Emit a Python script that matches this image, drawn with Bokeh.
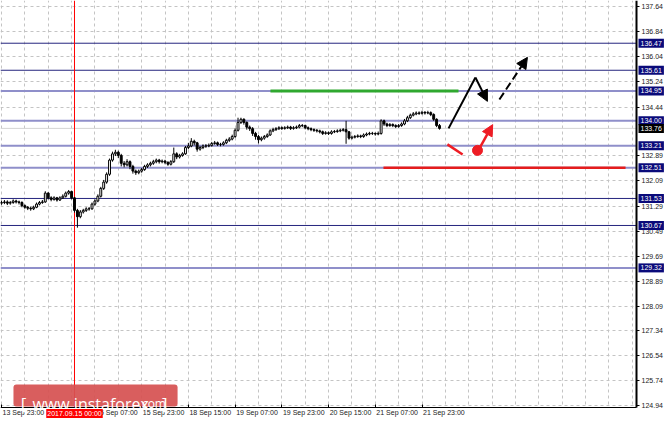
from bokeh.plotting import figure
from bokeh.models import (Range1d, FixedTicker, NumeralTickFormatter, Span, Label, LinearAxis,
                          Arrow, NormalHead, BoxAnnotation, ColumnDataSource)
from bokeh.embed import file_html
from bokeh.resources import INLINE

# ---------------- data ----------------
time_ticks = [0, 16, 32, 48, 64, 80, 96, 112, 128, 144]
time_labels = ["13 Sep 23:00", "14 Sep 15:00", "15 Sep 07:00", "15 Sep 23:00", "18 Sep 15:00",
               "19 Sep 07:00", "19 Sep 23:00", "20 Sep 15:00", "21 Sep 07:00", "21 Sep 23:00"]
price_ticks = [137.64, 136.84, 136.04, 135.24, 134.44, 132.89, 132.09, 131.29, 130.49,
               129.69, 128.89, 128.09, 127.34, 126.54, 125.74, 124.94]
levels = [136.47, 135.61, 134.95, 134.00, 133.21, 132.51, 131.53, 130.67, 129.32]
level_strong = [True, True, False, False, False, False, True, True, False]
current_price = 133.76
crosshair_bar = 25
crosshair_label = "2017.09.15 00:00"

first_open = 131.38
closes = [131.40, 131.42, 131.38, 131.40, 131.45, 131.42, 131.40, 131.30, 131.25, 131.22,
          131.20, 131.25, 131.35, 131.40, 131.42, 131.70, 131.55, 131.50, 131.55, 131.48,
          131.55, 131.60, 131.70, 131.75, 131.55, 131.15, 130.95, 131.10, 131.15, 131.20,
          131.20, 131.35, 131.45, 131.60, 131.85, 132.05, 132.30, 132.75, 132.95, 133.00,
          132.90, 132.65, 132.60, 132.70, 132.55, 132.40, 132.35, 132.40, 132.45, 132.55,
          132.60, 132.65, 132.70, 132.75, 132.70, 132.72, 132.68, 132.62, 132.70, 132.95,
          132.85, 132.90, 132.95, 133.15, 133.20, 133.35, 133.30, 133.10, 133.15, 133.20,
          133.20, 133.22, 133.28, 133.30, 133.25, 133.25, 133.30, 133.38, 133.42, 133.50,
          133.70, 133.95, 134.05, 133.95, 133.80, 133.75, 133.60, 133.50, 133.40, 133.45,
          133.50, 133.55, 133.68, 133.72, 133.75, 133.78, 133.76, 133.78, 133.80, 133.76,
          133.78, 133.80, 133.85, 133.85, 133.78, 133.75, 133.72, 133.70, 133.68, 133.65,
          133.60, 133.62, 133.60, 133.65, 133.66, 133.68, 133.70, 133.72, 133.65, 133.45,
          133.48, 133.50, 133.52, 133.50, 133.55, 133.58, 133.60, 133.60, 133.58, 133.60,
          134.00, 133.90, 133.85, 133.88, 133.85, 133.82, 133.85, 133.90, 134.00, 134.10,
          134.18, 134.22, 134.25, 134.24, 134.27, 134.25, 134.26, 134.20, 134.05, 133.85,
          133.76]
highs = [131.46, 131.48, 131.47, 131.45, 131.50, 131.49, 131.46, 131.44, 131.34, 131.29,
         131.27, 131.30, 131.40, 131.45, 131.48, 131.76, 131.73, 131.60, 131.60, 131.58,
         131.60, 131.66, 131.75, 131.80, 131.78, 131.58, 131.20, 131.16, 131.20, 131.25,
         131.26, 131.40, 131.50, 131.66, 131.90, 132.12, 132.36, 132.80, 133.02, 133.08,
         133.05, 132.95, 132.72, 132.78, 132.74, 132.60, 132.45, 132.45, 132.50, 132.60,
         132.65, 132.70, 132.76, 132.80, 132.79, 132.77, 132.76, 132.71, 132.75, 133.15,
         133.00, 132.95, 133.00, 133.20, 133.30, 133.45, 133.40, 133.33, 133.20, 133.25,
         133.26, 133.28, 133.33, 133.36, 133.34, 133.30, 133.35, 133.43, 133.48, 133.56,
         133.76, 134.10, 134.10, 134.08, 133.98, 133.85, 133.80, 133.65, 133.55, 133.50,
         133.55, 133.60, 133.73, 133.78, 133.80, 133.83, 133.82, 133.83, 133.85, 133.84,
         133.83, 133.85, 133.90, 133.90, 133.88, 133.82, 133.79, 133.76, 133.74, 133.72,
         133.69, 133.67, 133.66, 133.70, 133.71, 133.73, 133.75, 133.77, 134.00, 133.68,
         133.53, 133.55, 133.57, 133.56, 133.60, 133.63, 133.65, 133.65, 133.63, 133.66,
         134.05, 134.04, 133.94, 133.93, 133.92, 133.89, 133.90, 133.95, 134.06, 134.16,
         134.23, 134.28, 134.30, 134.30, 134.32, 134.31, 134.32, 134.30, 134.24, 134.08,
         133.90]
lows = [131.33, 131.35, 131.32, 131.33, 131.36, 131.37, 131.34, 131.25, 131.20, 131.16,
        131.14, 131.16, 131.22, 131.31, 131.36, 131.39, 131.50, 131.44, 131.46, 131.43,
        131.45, 131.52, 131.56, 131.65, 131.50, 131.08, 130.60, 130.90, 131.05, 131.10,
        131.14, 131.17, 131.30, 131.41, 131.56, 131.80, 132.00, 132.25, 132.70, 132.88,
        132.82, 132.55, 132.52, 132.55, 132.46, 132.32, 132.28, 132.30, 132.35, 132.41,
        132.50, 132.55, 132.60, 132.65, 132.64, 132.65, 132.62, 132.57, 132.58, 132.66,
        132.78, 132.80, 132.86, 132.92, 133.10, 133.16, 133.22, 133.02, 133.05, 133.10,
        133.14, 133.16, 133.18, 133.24, 133.20, 133.19, 133.21, 133.26, 133.33, 133.38,
        133.46, 133.66, 133.90, 133.88, 133.72, 133.68, 133.52, 133.40, 133.28, 133.35,
        133.40, 133.46, 133.52, 133.64, 133.68, 133.71, 133.71, 133.72, 133.74, 133.71,
        133.72, 133.74, 133.76, 133.80, 133.73, 133.70, 133.67, 133.65, 133.63, 133.60,
        133.55, 133.56, 133.55, 133.56, 133.61, 133.62, 133.64, 133.66, 133.27, 133.40,
        133.41, 133.44, 133.46, 133.45, 133.46, 133.51, 133.54, 133.55, 133.53, 133.54,
        133.56, 133.84, 133.80, 133.81, 133.80, 133.77, 133.78, 133.81, 133.86, 133.96,
        134.06, 134.14, 134.18, 134.19, 134.20, 134.20, 134.21, 134.15, 134.00, 133.80,
        133.72]

# forecast drawings (bar index, price)
green_x = [92.1, 156.5]
green_y = 134.95
red_level_x = [130.8, 213.7]
red_level_y = 132.51
up_leg_x = [153.1, 162.3]
up_leg_y = [133.76, 135.38]
pull_x = [162.3, 166.4]
pull_y = [135.38, 134.62]
cont_x = [170.5, 180.1]
cont_y = [134.68, 136.02]
red_dip_x = [152.7, 157.9]
red_dip_y = [133.25, 132.93]
red_dot = (163.0, 133.06)
red_up_x = [164.0, 168.2]
red_up_y = [133.18, 133.88]

# ---------------- figure ----------------
FONT = "Liberation Sans"
# chart area spans bars -0.34..217.46 and prices 124.88..137.83; the canvas extends a
# little further so that the price/time tags beside the axes stay inside the frame
x_lo, x_hi = -0.34, 217.46
y_lo, y_hi = 124.88, 137.83
p = figure(width=664, height=422, output_backend="svg", toolbar_location=None,
           x_range=Range1d(x_lo, 227.04), y_range=Range1d(124.40, y_hi),
           y_axis_location="right", min_border=0, min_border_left=0, min_border_right=0,
           min_border_top=0, min_border_bottom=0)
p.outline_line_color = None
p.background_fill_color = "white"
p.border_fill_color = "white"

# grids
p.xgrid.ticker = FixedTicker(ticks=list(range(0, 218, 8)))
p.ygrid.ticker = FixedTicker(ticks=price_ticks)
for g in (p.xgrid[0], p.ygrid[0]):
    g.grid_line_color = "#c4c4c4"
    g.grid_line_dash = "3 3"
    g.grid_line_width = 1

# level lines (underneath the drawings)
for lev, strong in zip(levels, level_strong):
    p.add_layout(Span(location=lev, dimension="width", level="underlay",
                      line_color="#24247e" if strong else "#8f8fca",
                      line_width=1 if strong else 2))
p.add_layout(Span(location=current_price, dimension="width", level="underlay",
                  line_color="#d4d4d4", line_width=1))
p.add_layout(Span(location=crosshair_bar, dimension="height", level="underlay",
                  line_color="#ff0000", line_width=1))

# white margins outside the chart area (axis label zones)
p.add_layout(BoxAnnotation(left=x_hi, fill_color="white", fill_alpha=1, line_color=None,
                           level="underlay"))
p.add_layout(BoxAnnotation(top=y_lo, fill_color="white", fill_alpha=1, line_color=None,
                           level="underlay"))

# price axis, pinned to the chart-area edge
yax = p.yaxis[0]
yax.fixed_location = x_hi
yax.bounds = (y_lo, y_hi)
yax.ticker = FixedTicker(ticks=price_ticks)
yax.formatter = NumeralTickFormatter(format="0.00")
yax.major_label_text_font = FONT
yax.major_label_text_font_size = "7px"
yax.major_label_text_color = "#222222"
yax.major_tick_in = 0
yax.major_tick_out = 3
yax.minor_tick_line_color = None
yax.major_label_standoff = 2
yax.axis_line_color = "black"
yax.axis_line_width = 2

# time axis: labels start at their tick (MT4 style), so labels sit half a label to the right
label_shift = 7.5
xax = p.xaxis[0]
xax.fixed_location = y_lo
xax.bounds = (x_lo, x_hi)
xax.ticker = FixedTicker(ticks=[t + label_shift for t in time_ticks])
xax.major_label_overrides = {t + label_shift: l for t, l in zip(time_ticks, time_labels)}
xax.major_label_text_font = FONT
xax.major_label_text_font_size = "7px"
xax.major_label_text_color = "#222222"
xax.major_tick_in = 0
xax.major_tick_out = 0
xax.major_tick_line_color = None
xax.minor_tick_line_color = None
xax.major_label_standoff = 2
xax.axis_line_color = "black"
xax.axis_line_width = 1

tick_axis = LinearAxis(fixed_location=y_lo, bounds=(x_lo, x_hi),
                       ticker=FixedTicker(ticks=time_ticks),
                       major_label_text_font_size="0px", major_label_text_alpha=0,
                       major_tick_in=3, major_tick_out=0, major_tick_line_color="black",
                       minor_tick_line_color=None, axis_line_color=None)
p.add_layout(tick_axis, "below")

# candles
idx = list(range(len(closes)))
opens = [first_open] + closes[:-1]
bull = [c >= o for o, c in zip(opens, closes)]
src = ColumnDataSource(dict(
    x=idx, o=opens, c=closes, h=highs, l=lows,
    top=[max(o, c) for o, c in zip(opens, closes)],
    bot=[min(o, c) for o, c in zip(opens, closes)],
    fill=["white" if b else "black" for b in bull]))
p.segment(x0="x", y0="h", x1="x", y1="l", source=src, line_color="black", line_width=1)
p.vbar(x="x", top="top", bottom="bot", width=0.65, source=src,
       fill_color="fill", line_color="black", line_width=1)

# forecast drawings
p.line(green_x, [green_y, green_y], line_color="#2fa82f", line_width=3)
p.line(red_level_x, [red_level_y, red_level_y], line_color="#e51c1c", line_width=2.5)
p.line(up_leg_x, up_leg_y, line_color="black", line_width=2)
p.add_layout(Arrow(end=NormalHead(size=11, fill_color="black", line_color="black"),
                   x_start=pull_x[0], y_start=pull_y[0], x_end=pull_x[1], y_end=pull_y[1],
                   line_color="black", line_width=2))
p.add_layout(Arrow(end=NormalHead(size=11, fill_color="black", line_color="black"),
                   x_start=cont_x[0], y_start=cont_y[0], x_end=cont_x[1], y_end=cont_y[1],
                   line_color="black", line_width=2, line_dash="8 4"))
p.line(red_dip_x, red_dip_y, line_color="#ee1c24", line_width=2.5)
p.scatter([red_dot[0]], [red_dot[1]], size=10, fill_color="#ee1c24", line_color="#ee1c24")
p.add_layout(Arrow(end=NormalHead(size=11, fill_color="#ee1c24", line_color="#ee1c24"),
                   x_start=red_up_x[0], y_start=red_up_y[0], x_end=red_up_x[1], y_end=red_up_y[1],
                   line_color="#ee1c24", line_width=2.5))

# right-side level tags
tag_px = 638
for lev in levels:
    p.add_layout(Label(x=tag_px, y=lev, x_units="screen", text=f"{lev:.2f}", text_color="white",
                       text_font=FONT, text_font_size="7px", text_baseline="middle",
                       text_align="left", background_fill_color="#0a0a7a",
                       padding=2, level="overlay"))
p.add_layout(Label(x=tag_px, y=current_price, x_units="screen", text=f"{current_price:.2f}",
                   text_color="white", text_font=FONT, text_font_size="7px",
                   text_baseline="middle", text_align="left", background_fill_color="black",
                   padding=2, level="overlay"))

# crosshair time tag
p.add_layout(Label(x=crosshair_bar, y=9, y_units="screen", text=crosshair_label,
                   text_color="white", text_font=FONT, text_font_size="7px",
                   text_baseline="middle", text_align="center",
                   background_fill_color="#ff0000", padding=1, level="overlay"))

# watermark
p.add_layout(BoxAnnotation(left=4.1, right=60.3, top=125.61, bottom=124.91,
                           fill_color="#d65252", fill_alpha=0.93, line_color=None,
                           border_radius=3))
p.add_layout(Label(x=6.6, y=125.0, text="[", text_color="white", text_font="Open Sans",
                   text_font_size="17px", text_baseline="alphabetic"))
p.add_layout(Label(x=10.6, y=125.0, text="www.instaforex", text_color="white",
                   text_font="Open Sans", text_font_size="16px", text_baseline="alphabetic"))
p.add_layout(Label(x=47.0, y=125.0, text=".com", text_color="white",
                   text_font="Open Sans", text_font_size="12px", text_baseline="alphabetic"))
p.add_layout(Label(x=55.0, y=125.0, text="]", text_color="white", text_font="Open Sans",
                   text_font_size="17px", text_baseline="alphabetic"))

open("out.html", "w").write(file_html(p, INLINE))
